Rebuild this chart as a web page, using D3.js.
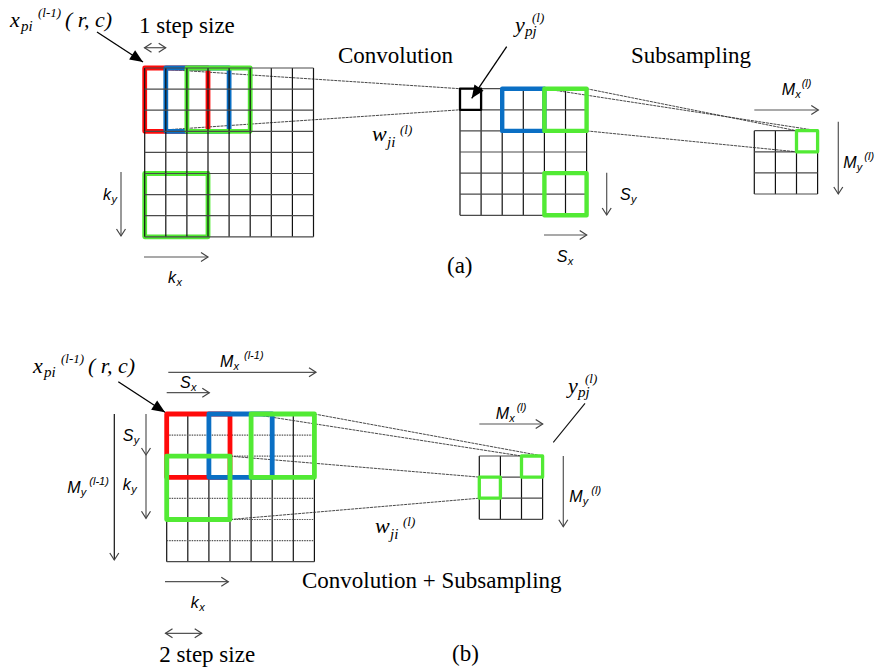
<!DOCTYPE html>
<html>
<head>
<meta charset="utf-8">
<script src="https://cdn.jsdelivr.net/npm/d3@7"></script>
<style>
  body { margin: 0; background: #fff; }
  .serif { font-family: "Liberation Serif", "Times New Roman", serif; font-size: 23px; fill: #000; }
  .mi { font-family: "Liberation Serif", serif; font-style: italic; font-size: 22px; fill: #000; }
  .mi-sub { font-family: "Liberation Serif", serif; font-style: italic; font-size: 15px; fill: #000; }
  .mi-sup { font-family: "Liberation Serif", serif; font-style: italic; font-size: 13px; fill: #000; }
  .si { font-family: "Liberation Sans", Arial, sans-serif; font-style: italic; font-size: 16px; fill: #000; }
  .si-sub { font-family: "Liberation Sans", Arial, sans-serif; font-style: italic; font-size: 11px; fill: #000; }
  .si-sup { font-family: "Liberation Sans", Arial, sans-serif; font-style: italic; font-size: 11px; fill: #000; }
</style>
</head>
<body>
<div id="fig"></div>
<script>
// grids of the figure: name and number of cells per side
const gridNames = ['aIn', 'aConv', 'aSub', 'bIn', 'bOut'];
const gridSizes = [8, 6, 3, 7, 3];

// highlighted windows: grid, row, col, span (cells), kind
const boxes = [
    ['aIn', 0, 0, 3, 'k1'], ['aIn', 0, 1, 3, 'k2'], ['aIn', 0, 2, 3, 'k3'], ['aIn', 5, 0, 3, 'k3'],
    ['aConv', 0, 0, 1, 'y'], ['aConv', 0, 2, 2, 'k2'], ['aConv', 0, 4, 2, 'k3'], ['aConv', 4, 4, 2, 'k3'],
    ['aSub', 0, 2, 1, 'k3'],
    ['bIn', 0, 0, 3, 'k1'], ['bIn', 0, 2, 3, 'k2'], ['bIn', 0, 4, 3, 'k3'], ['bIn', 2, 0, 3, 'k3'],
    ['bOut', 0, 2, 1, 'k3'], ['bOut', 1, 0, 1, 'k3']
];

// projection lines: from grid corner (col, row) to grid corner (col, row)
const links = [
    ['aIn', 0, 0, 'aConv', 0, 0], ['aIn', 0, 3, 'aConv', 0, 1],
    ['aConv', 6, 0, 'aSub', 2, 0], ['aConv', 4, 0, 'aSub', 3, 0], ['aConv', 6, 2, 'aSub', 2, 1],
    ['bIn', 7, 0, 'bOut', 3, 0], ['bIn', 4, 0, 'bOut', 2, 0],
    ['bIn', 3, 2, 'bOut', 0, 1], ['bIn', 3, 5, 'bOut', 0, 2]
];

const titles = ['Convolution', 'Subsampling', '(a)', 'Convolution + Subsampling', '(b)', '1 step size', '2 step size'];

// ---- layout ----
const W = 876, H = 670, CELL = 21.1;
const origin = {
    aIn: [144.7, 68], aConv: [460, 88.7], aSub: [754.3, 130.7],
    bIn: [166.7, 414], bOut: [479.3, 456]
};
const boxWidth = { aIn: 4.8, aConv: 4.4, aSub: 3.3, bIn: 4.8, bOut: 3.3 };
const kindColor = { k1: '#ff0a0a', k2: '#0a6fc4', k3: '#52ea34', y: '#000' };

const svg = d3.select('#fig').append('svg').attr('width', W).attr('height', H);

const defs = svg.append('defs');
defs.append('marker')
    .attr('id', 'open').attr('viewBox', '-9 -6 11 12')
    .attr('markerUnits', 'userSpaceOnUse').attr('markerWidth', 11).attr('markerHeight', 12)
    .attr('refX', 0).attr('refY', 0).attr('orient', 'auto-start-reverse')
    .append('path').attr('d', 'M-7,-4.5L0,0L-7,4.5')
    .attr('fill', 'none').attr('stroke', '#444').attr('stroke-width', 1.2);
defs.append('marker')
    .attr('id', 'solid').attr('viewBox', '-14 -7 15 14')
    .attr('markerUnits', 'userSpaceOnUse').attr('markerWidth', 15).attr('markerHeight', 14)
    .attr('refX', 0).attr('refY', 0).attr('orient', 'auto')
    .append('path').attr('d', 'M-13,-5.5L0,0L-13,5.5Z').attr('fill', '#000');

const scales = {};
gridNames.forEach(function (name, i) {
    const n = gridSizes[i];
    const o = origin[name];
    scales[name] = {
        n: n,
        x: d3.scaleLinear().domain([0, n]).range([o[0], o[0] + n * CELL]),
        y: d3.scaleLinear().domain([0, n]).range([o[1], o[1] + n * CELL])
    };
});

function drawGrid(name) {
    const s = scales[name];
    const g = svg.append('g');
    const dotted = name === 'bIn';
    g.selectAll('line.v').data(d3.range(s.n + 1)).enter().append('line')
        .attr('x1', s.x).attr('x2', s.x)
        .attr('y1', s.y(0)).attr('y2', s.y(s.n))
        .attr('stroke', '#111').attr('stroke-width', 1.2);
    g.selectAll('line.h').data(d3.range(s.n + 1)).enter().append('line')
        .attr('y1', s.y).attr('y2', s.y)
        .attr('x1', s.x(0)).attr('x2', s.x(s.n))
        .attr('stroke', function (d) { return dotted && d > 0 && d < s.n ? '#555' : '#4a4a4a'; })
        .attr('stroke-width', 1.2)
        .attr('stroke-dasharray', function (d) { return dotted && d > 0 && d < s.n ? '1.5,1' : null; });
}

function drawBoxes(name) {
    const s = scales[name];
    svg.append('g').selectAll('rect')
        .data(boxes.filter(function (b) { return b[0] === name; }))
        .enter().append('rect')
        .attr('x', function (b) { return s.x(b[2]); })
        .attr('y', function (b) { return s.y(b[1]); })
        .attr('width', function (b) { return s.x(b[2] + b[3]) - s.x(b[2]); })
        .attr('height', function (b) { return s.y(b[1] + b[3]) - s.y(b[1]); })
        .attr('fill', 'none')
        .attr('stroke', function (b) { return kindColor[b[4]]; })
        .attr('stroke-width', function (b) { return b[4] === 'y' ? 2.3 : boxWidth[name]; })
        .attr('stroke-linejoin', 'round');
}

// grids under everything except the first input grid, which lies over its windows
gridNames.filter(function (n) { return n !== 'aIn'; }).forEach(drawGrid);

svg.append('g').selectAll('line').data(links).enter().append('line')
    .attr('x1', function (l) { return scales[l[0]].x(l[1]); })
    .attr('y1', function (l) { return scales[l[0]].y(l[2]); })
    .attr('x2', function (l) { return scales[l[3]].x(l[4]); })
    .attr('y2', function (l) { return scales[l[3]].y(l[5]); })
    .attr('stroke', '#333').attr('stroke-width', 0.9).attr('stroke-dasharray', '3,0.8');

gridNames.forEach(drawBoxes);
drawGrid('aIn');

// ---- arrows ----
function arrow(x1, y1, x2, y2, opts) {
    opts = opts || {};
    const line = svg.append('line')
        .attr('x1', x1).attr('y1', y1).attr('x2', x2).attr('y2', y2)
        .attr('stroke', opts.solid ? '#000' : '#555')
        .attr('stroke-width', opts.solid ? 1.3 : 1.2)
        .attr('marker-end', opts.solid ? 'url(#solid)' : 'url(#open)');
    if (opts.both) line.attr('marker-start', 'url(#open)');
    return line;
}

// panel (a)
arrow(97, 32, 143, 62, { solid: true });
arrow(144.5, 47.7, 165.7, 47.7, { both: true });
arrow(506.7, 46.7, 471.7, 98.3, { solid: true });
arrow(121, 172, 121, 236);
arrow(144, 257, 208, 257);
arrow(606.7, 172.7, 606.7, 215);
arrow(544, 235, 586.7, 235);
arrow(754.3, 110, 818.3, 110);
arrow(838.3, 121.7, 838.3, 194);

// panel (b)
arrow(118.3, 381.7, 165, 412.3, { solid: true });
arrow(168.3, 372.3, 316, 372.3);
arrow(166.7, 392.7, 209.3, 392.7);
arrow(114.3, 414, 114.3, 560).attr('stroke', '#111');
arrow(146, 414, 146, 455);
arrow(146, 455, 146, 518.3);
arrow(165, 581.7, 228.3, 581.7);
arrow(165.5, 633.3, 201.7, 633.3, { both: true });
arrow(479.3, 424, 542.7, 424);
arrow(563.3, 456, 563.3, 526.7);
svg.append('line').attr('x1', 553.3).attr('y1', 442.3).attr('x2', 585).attr('y2', 403.3)
    .attr('stroke', '#111').attr('stroke-width', 1.1);

// ---- text ----
function text(cls, x, y, t) {
    svg.append('text').attr('class', cls).attr('x', x).attr('y', y).text(t);
}

text('serif', 338, 63, titles[0]);
text('serif', 631, 63, titles[1]);
text('serif', 447, 273, titles[2]);
text('serif', 302, 588.3, titles[3]);
text('serif', 452, 661, titles[4]);
text('serif', 139, 33, titles[5]);
text('serif', 159.3, 661.7, titles[6]);

function xpi(X, Y) {
    text('mi', X, Y, 'x');
    text('mi-sub', X + 11, Y + 4, 'pi');
    text('mi-sup', X + 28, Y - 10, '(l-1)');
    text('mi', X + 55, Y, '( r, c)');
}
xpi(10, 27);
xpi(33, 373);

function ypj(X, Y) {
    text('mi', X, Y, 'y');
    text('mi-sub', X + 10, Y + 4, 'pj');
    text('mi-sup', X + 17, Y - 10, '(l)');
}
ypj(515, 32);
ypj(568, 393);

function wji(X, Y) {
    text('mi', X, Y, 'w');
    text('mi-sub', X + 15, Y + 6, 'ji');
    text('mi-sup', X + 28, Y - 7, '(l)');
}
wji(372, 141);
wji(375, 533);

function sym(X, Y, main, sub, sup, supDx) {
    text('si', X, Y, main);
    const w = main === 'M' ? 13.5 : main === 'S' ? 11 : 8.5;
    text('si-sub', X + w, Y + 3, sub);
    if (sup) text('si-sup', X + (supDx || w + 6), Y - 8, sup);
}
sym(103, 200, 'k', 'y');
sym(168, 283, 'k', 'x');
sym(620, 200, 'S', 'y');
sym(556.7, 262, 'S', 'x');
sym(781.7, 95, 'M', 'x', '(l)', 20);
sym(843.3, 168.3, 'M', 'y', '(l)', 21);

sym(220, 366.7, 'M', 'x', '(l-1)', 24);
sym(180, 388.3, 'S', 'x');
sym(67.3, 492.7, 'M', 'y', '(l-1)', 22);
sym(122.7, 440.7, 'S', 'y');
sym(122.7, 490, 'k', 'y');
sym(190.7, 608.3, 'k', 'x');
sym(495.7, 419.3, 'M', 'x', '(l)', 21);
sym(569.3, 501.7, 'M', 'y', '(l)', 22);
</script>
</body>
</html>
